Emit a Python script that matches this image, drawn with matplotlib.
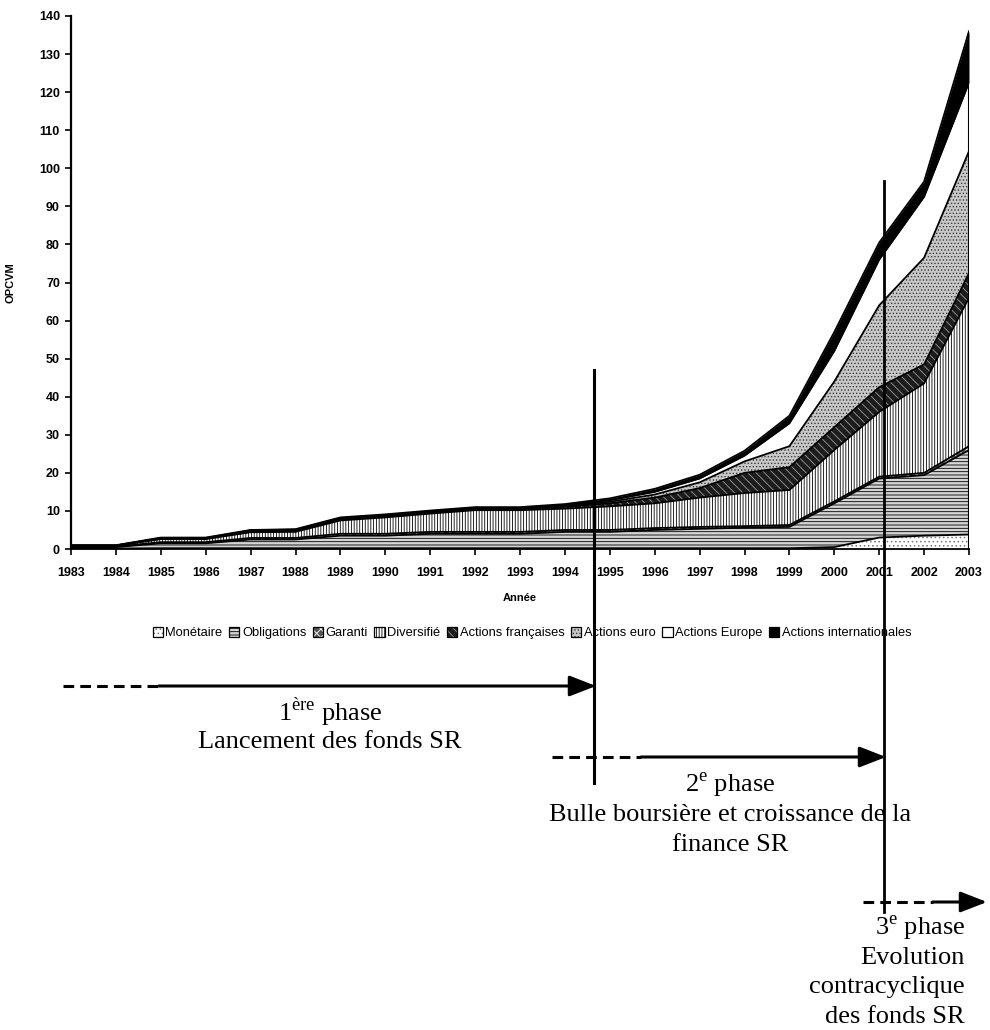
import matplotlib
matplotlib.use('Agg')
import matplotlib.pyplot as plt
import numpy as np
from matplotlib.patches import Patch

plt.rcParams['hatch.linewidth'] = 0.6
plt.rcParams['mathtext.fontset'] = 'custom'
plt.rcParams['mathtext.rm'] = 'Liberation Serif'
plt.rcParams['font.family'] = ['Liberation Sans', 'DejaVu Sans']

years = list(range(1983, 2004))
monetaire    = [0.1, 0.1, 0.2, 0.2, 0.2, 0.2, 0.2, 0.2, 0.2, 0.2, 0.2, 0.2, 0.2, 0.2, 0.2, 0.2, 0.2, 0.5, 3.0, 3.5, 3.8]
obligations  = [0.4, 0.4, 1.3, 1.3, 2.3, 2.3, 3.3, 3.3, 3.8, 3.8, 3.8, 4.3, 4.3, 4.8, 5.1, 5.4, 5.6, 11.5, 15.5, 15.9, 22.2]
garanti      = [0.1, 0.1, 0.3, 0.3, 0.4, 0.4, 0.5, 0.5, 0.5, 0.5, 0.5, 0.5, 0.5, 0.5, 0.5, 0.4, 0.5, 0.5, 0.5, 0.6, 1.0]
diversifie   = [0.2, 0.2, 0.8, 0.8, 1.5, 1.6, 3.5, 4.3, 4.8, 5.7, 5.7, 5.6, 6.2, 6.5, 7.7, 8.7, 9.2, 13.5, 17.0, 23.5, 39.0]
act_fr       = [0.1, 0.1, 0.2, 0.2, 0.3, 0.4, 0.4, 0.4, 0.4, 0.4, 0.4, 0.5, 0.8, 1.5, 2.5, 5.3, 6.0, 6.0, 6.5, 5.0, 6.5]
act_euro     = [0.0, 0.0, 0.0, 0.0, 0.1, 0.1, 0.1, 0.1, 0.1, 0.1, 0.1, 0.2, 0.4, 0.8, 1.5, 3.0, 5.5, 12.0, 21.5, 28.0, 32.0]
act_europe   = [0.0, 0.0, 0.1, 0.1, 0.1, 0.1, 0.1, 0.1, 0.1, 0.1, 0.1, 0.2, 0.4, 0.7, 1.0, 1.5, 6.0, 8.0, 12.0, 16.0, 18.0]
act_intl     = [0.1, 0.1, 0.1, 0.1, 0.1, 0.1, 0.2, 0.2, 0.2, 0.2, 0.2, 0.3, 0.5, 0.8, 1.0, 1.3, 2.0, 5.0, 4.5, 4.0, 13.5]

names = ['Monétaire', 'Obligations', 'Garanti', 'Diversifié', 'Actions françaises',
         'Actions euro', 'Actions Europe', 'Actions internationales']
data = [monetaire, obligations, garanti, diversifie, act_fr, act_euro, act_europe, act_intl]

styles = [
    dict(fc='white',   hc='#777777', hatch='....'),
    dict(fc='#d4d4d4', hc='black',   hatch='-----'),
    dict(fc='#555555', hc='white',   hatch='xxxx'),
    dict(fc='white',   hc='black',   hatch='||||||'),
    dict(fc='#1c1c1c', hc='#9a9a9a', hatch='\\\\\\\\'),
    dict(fc='#c8c8c8', hc='#3a3a3a', hatch='.....'),
    dict(fc='white',   hc='white',   hatch=None),
    dict(fc='black',   hc='black',   hatch=None),
]

fig = plt.figure(figsize=(9.9, 10.3), dpi=100)
ax = fig.add_axes([71/990, 1-549/1030, (969-71)/990, (549-16)/1030])

polys = ax.stackplot(years, *data, colors=[s['fc'] for s in styles], linewidth=0)
for p, s in zip(polys, styles):
    if s['hatch']:
        p.set_hatch(s['hatch'])
    p.set_edgecolor(s['hc'])
    p.set_linewidth(0)

cum = np.cumsum(np.array(data), axis=0)
for row in cum:
    ax.plot(years, row, color='black', lw=1.3, solid_joinstyle='miter')
ax.vlines(years[-1], 0, cum[-1][-1], color='black', lw=1.5)

ax.set_xlim(1983, 2003)
ax.set_ylim(0, 140)
ax.set_xticks(years)
ax.set_xticklabels([str(y) for y in years], fontsize=9, fontweight='bold')
ax.set_yticks(range(0, 141, 10))
ax.set_yticklabels([str(v) for v in range(0, 141, 10)], fontsize=9, fontweight='bold')
for sp in ['top', 'right']:
    ax.spines[sp].set_visible(False)
ax.spines['left'].set_linewidth(1.6)
ax.spines['bottom'].set_linewidth(1.3)
ax.tick_params(axis='x', direction='out', length=4, width=1.2, pad=9)
ax.tick_params(axis='y', direction='out', length=4, width=1.2, pad=4)
ax.set_xlabel('Année', fontsize=8, fontweight='bold', labelpad=10)
ax.set_ylabel('OPCVM', fontsize=8, fontweight='bold')
ax.yaxis.set_label_coords(-0.062, 0.5)

handles = [(Patch(facecolor=s['fc'], edgecolor=s['hc'], hatch=s['hatch'], lw=0),
            Patch(facecolor='none', edgecolor='black', lw=0.9)) for s in styles]
fig.legend(handles, names, loc='center', bbox_to_anchor=(532/990, 1-633/1030), ncol=8,
           frameon=False, fontsize=9.3, handlelength=0.8, handleheight=0.8,
           handletextpad=0.2, columnspacing=0.5, borderaxespad=0, borderpad=0)

# overlay for phase annotations (pixel coordinates)
ov = fig.add_axes([0, 0, 1, 1], zorder=10)
ov.set_xlim(0, 990)
ov.set_ylim(1030, 0)
ov.axis('off')
ov.patch.set_alpha(0)

ov.plot([594, 594], [370, 783], color='black', lw=2.2)
ov.plot([884, 884], [181, 912], color='black', lw=2.0)

def phase_arrow(x0, xd, x1, y):
    ov.plot([x0, xd], [y, y], color='black', lw=2.2, ls=(0, (3.5, 2)))
    ov.annotate('', xy=(x1, y), xytext=(xd, y),
                arrowprops=dict(arrowstyle='-|>,head_length=0.9,head_width=0.35',
                                lw=2.2, color='black', shrinkA=0, shrinkB=0,
                                mutation_scale=18))

phase_arrow(63, 159, 596, 686)
phase_arrow(552, 641, 886, 757)
phase_arrow(863, 933, 987, 902)

tkw = dict(family='Liberation Serif', fontsize=19, color='black', va='center')
ov.text(330, 712, r'1$^{\mathrm{ère}}$ phase', ha='center', **tkw)
ov.text(330, 742, 'Lancement des fonds SR', ha='center', **tkw)
ov.text(730, 785, r'2$^{\mathrm{e}}$ phase', ha='center', **tkw)
ov.text(730, 815, 'Bulle boursière et croissance de la', ha='center', **tkw)
ov.text(730, 845, 'finance SR', ha='center', **tkw)
ov.text(965, 928, r'3$^{\mathrm{e}}$ phase', ha='right', **tkw)
ov.text(965, 958, 'Evolution', ha='right', **tkw)
ov.text(965, 987, 'contracyclique', ha='right', **tkw)
ov.text(965, 1017, 'des fonds SR', ha='right', **tkw)

fig.savefig('out.png', dpi=100)
